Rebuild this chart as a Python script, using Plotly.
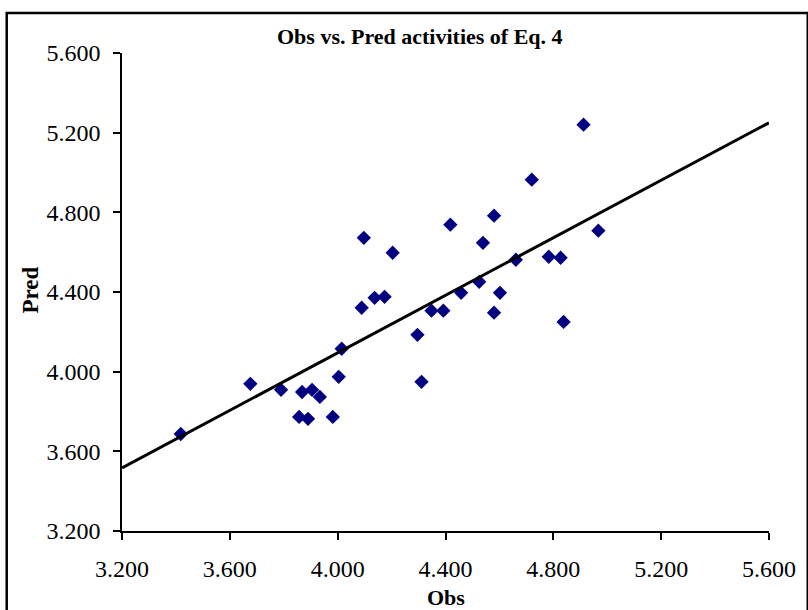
import plotly.graph_objects as go

obs = [3.418, 3.676, 3.790, 3.868, 3.857, 3.890, 3.905, 3.934, 3.982, 4.004, 4.015,
       4.097, 4.089, 4.137, 4.174, 4.204, 4.296, 4.311, 4.348, 4.392, 4.418, 4.458,
       4.525, 4.539, 4.580, 4.580, 4.602, 4.661, 4.720, 4.783, 4.827, 4.838, 4.912, 4.967]
pred = [3.687, 3.939, 3.909, 3.898, 3.773, 3.763, 3.909, 3.873, 3.773, 3.974, 4.115,
        4.672, 4.321, 4.371, 4.376, 4.597, 4.185, 3.949, 4.306, 4.306, 4.738, 4.396,
        4.451, 4.647, 4.783, 4.296, 4.396, 4.562, 4.964, 4.577, 4.572, 4.250, 5.240, 4.708]
trend_x = [3.2, 5.6]
trend_y = [3.517, 5.250]
tick_vals = [3.2, 3.6, 4.0, 4.4, 4.8, 5.2, 5.6]
tick_text = ["3.200", "3.600", "4.000", "4.400", "4.800", "5.200", "5.600"]

FONT = "Liberation Serif"

fig = go.Figure()
fig.add_trace(go.Scatter(x=obs, y=pred, mode="markers",
                         marker=dict(symbol="diamond", size=11, color="#000080"),
                         showlegend=False))
fig.add_trace(go.Scatter(x=trend_x, y=trend_y, mode="lines",
                         line=dict(color="black", width=3), showlegend=False))

L, R, T, B = 122, 35, 53, 79
W, H = 808, 610
pw, ph = W - L - R, H - T - B

def px(xp):
    return (xp - L) / pw

def py(yp):
    return (H - B - yp) / ph

axis_common = dict(range=[3.2, 5.6], tickvals=tick_vals, ticktext=tick_text,
                   showgrid=False, zeroline=False, showline=True, linecolor="black",
                   linewidth=1.5, ticks="outside", ticklen=7, tickwidth=1.5,
                   tickcolor="black", tickfont=dict(family=FONT, size=24, color="black"))

fig.update_layout(
    width=W, height=H,
    margin=dict(l=L, r=R, t=T, b=B),
    paper_bgcolor="white", plot_bgcolor="white",
    xaxis=dict(**axis_common, ticklabelstandoff=8),
    yaxis=dict(**axis_common, ticklabelstandoff=8),
    shapes=[dict(type="rect", xref="paper", yref="paper",
                 x0=px(6), x1=px(812), y0=py(614), y1=py(13),
                 line=dict(color="black", width=2.5), fillcolor="rgba(0,0,0,0)",
                 layer="below")],
    annotations=[
        dict(text="<b>Obs vs. Pred activities of Eq. 4</b>", xref="paper", yref="paper",
             x=px(422), y=py(37), xanchor="center", yanchor="middle", showarrow=False,
             font=dict(family=FONT, size=22, color="black")),
        dict(text="<b>Obs</b>", xref="paper", yref="paper",
             x=px(448), y=py(597), xanchor="center", yanchor="middle", showarrow=False,
             font=dict(family=FONT, size=22, color="black")),
        dict(text="<b>Pred</b>", xref="paper", yref="paper",
             x=px(29), y=py(290), xanchor="center", yanchor="middle", showarrow=False,
             textangle=-90,
             font=dict(family=FONT, size=23, color="black")),
    ],
)

fig.write_html("out.html", config={"displayModeBar": False},
               post_script="document.body.style.margin='0';")
